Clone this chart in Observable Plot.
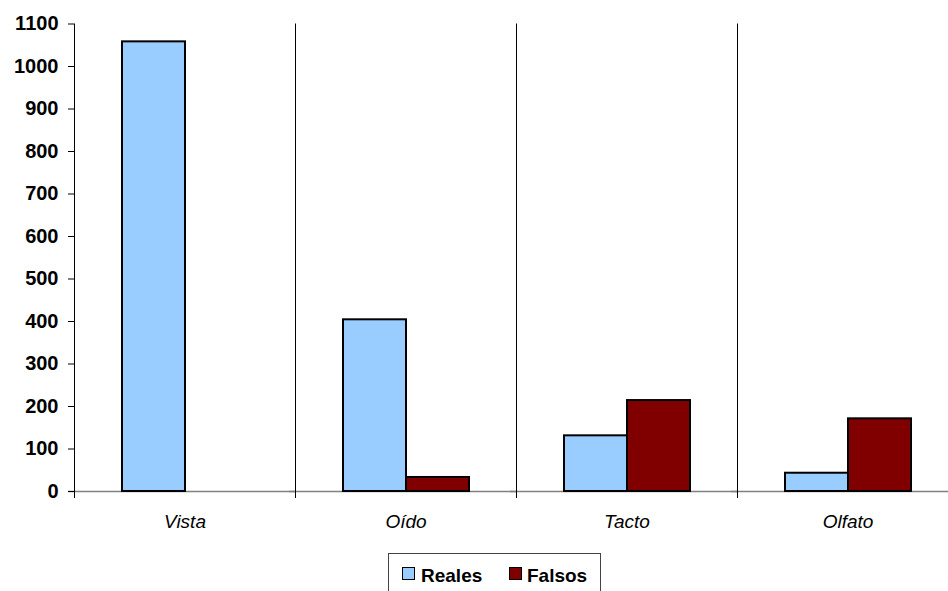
<!DOCTYPE html>
<html>
<head>
<meta charset="utf-8">
<script src="https://cdn.jsdelivr.net/npm/d3@7"></script>
<script src="https://cdn.jsdelivr.net/npm/@observablehq/plot@0.6"></script>
<style>
  html, body { margin: 0; padding: 0; background: #fff; }
  #wrap { position: relative; width: 948px; height: 591px; overflow: hidden; font-family: "Liberation Sans", Arial, sans-serif; }
  #chart { position: absolute; left: 0; top: 0; width: 958px; }
  #legend { position: absolute; left: 388px; top: 553px; width: 211px; height: 50px; border: 1px solid #444; background: #fff; }
  .sw { position: absolute; width: 11px; height: 11px; border: 1.5px solid #000; top: 13px; }
  .lt { position: absolute; top: 12px; font-size: 19px; line-height: 19px; font-weight: bold; color: #000; white-space: nowrap; }
</style>
</head>
<body>
<div id="wrap">
  <div id="chart"></div>
  <div id="legend"></div>
</div>
<script>
const categories = ["Vista", "Oído", "Tacto", "Olfato"];
const series = ["Reales", "Falsos"];
const reales = [1058, 404, 131, 43];
const falsos = [0, 33, 214, 171];
const yTicks = [0, 100, 200, 300, 400, 500, 600, 700, 800, 900, 1000, 1100];
const colors = ["#99ccff", "#800000"];

const data = categories.flatMap((c, i) => [
  {cat: c, series: "Reales", value: reales[i]},
  {cat: c, series: "Falsos", value: falsos[i]}
]).filter(d => d.value > 0);

const chart = Plot.plot({
  width: 958,
  height: 545,
  marginLeft: 74,
  marginRight: 0,
  marginTop: 23.5,
  marginBottom: 54,
  style: {fontFamily: "'Liberation Sans', Arial, sans-serif", fontSize: "19px", color: "#000", background: "#fff", maxWidth: "none"},
  fx: {domain: categories, padding: 0, label: null},
  x: {domain: series, axis: null, paddingInner: 0, paddingOuter: 0.73},
  y: {domain: [0, 1100], label: null},
  color: {domain: series, range: colors},
  marks: [
    Plot.ruleY([0], {stroke: "#808080", strokeWidth: 1.5, insetLeft: -6}),
    Plot.frame({anchor: "left", stroke: "#000", strokeWidth: 1, insetBottom: -6}),
    Plot.barY(data, {fx: "cat", x: "series", y: "value", fill: "series", stroke: "#000", strokeWidth: 2}),
    Plot.axisY({ticks: yTicks, tickFormat: d => String(d), tickSize: 6, tickPadding: 10, fontWeight: "bold", fontSize: 20, label: null}),
    Plot.axisFx({anchor: "bottom", tickSize: 0, tickPadding: 23, fontStyle: "italic", fontSize: 19, label: null})
  ]
});
document.getElementById("chart").appendChild(chart);

const legend = document.getElementById("legend");
const lx = [[13, 32], [120, 138]];
series.forEach((s, i) => {
  const sw = document.createElement("div");
  sw.className = "sw";
  sw.style.left = lx[i][0] + "px";
  sw.style.background = colors[i];
  legend.appendChild(sw);
  const t = document.createElement("div");
  t.className = "lt";
  t.style.left = lx[i][1] + "px";
  t.textContent = s;
  legend.appendChild(t);
});
</script>
</body>
</html>
